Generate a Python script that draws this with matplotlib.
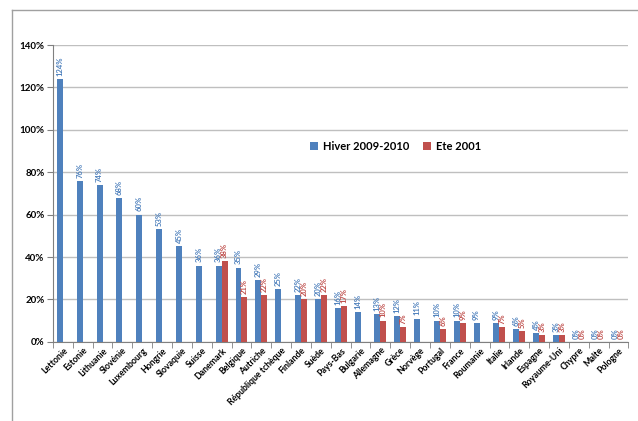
import numpy as np
import matplotlib
matplotlib.use("Agg")
from matplotlib import pyplot as plt
from matplotlib.lines import Line2D

countries = ["Lettonie", "Estonie", "Lithuanie", "Slovénie", "Luxembourg", "Hongrie",
             "Slovaquie", "Suisse", "Danemark", "Belgique", "Autriche", "République tchèque",
             "Finlande", "Suède", "Pays-Bas", "Bulgarie", "Allemagne", "Grèce", "Norvège",
             "Portugal", "France", "Roumanie", "Italie", "Irlande", "Espagne", "Royaume-Uni",
             "Chypre", "Malte", "Pologne"]
hiver = [124, 76, 74, 68, 60, 53, 45, 36, 36, 35, 29, 25, 22, 20, 16, 14, 13, 12, 11,
         10, 10, 9, 9, 6, 4, 3, 0, 0, 0]
ete = [np.nan, np.nan, np.nan, np.nan, np.nan, np.nan, np.nan, np.nan, 38, 21, 22, np.nan,
       20, 22, 17, np.nan, 10, 7, np.nan, 6, 9, np.nan, 7, 5, 3, 3, 0, 0, 0]

blue = "#4F81BD"
red = "#C0504D"
plt.rcParams['font.family'] = ['Lato', 'DejaVu Sans']

fig = plt.figure(figsize=(6.38, 4.21), dpi=100)
ax = fig.add_axes([0.083, 0.188, 0.902, 0.705])

x = np.arange(len(countries))
w = 0.3
ax.bar(x - w/2, hiver, w, color=blue, label="Hiver 2009-2010", zorder=3)
ax.bar(x + w/2, np.nan_to_num(ete), w, color=red, label="Ete 2001", zorder=3)

# data labels
for i in range(len(x)):
  ax.text(x[i] - w/2, hiver[i] + 1.5, "%d%%" % hiver[i], rotation=90, ha="center",
          va="bottom", fontsize=5.5, fontweight="bold", color=blue)
  if not np.isnan(ete[i]):
    ax.text(x[i] + w/2, ete[i] + 1.5, "%d%%" % ete[i], rotation=90, ha="center",
            va="bottom", fontsize=5.5, fontweight="bold", color=red)

ax.set_ylim(0, 140)
ax.set_xlim(-0.5, len(countries) - 0.5)
ax.set_yticks(np.arange(0, 141, 20))
ax.set_yticklabels(["%d%%" % v for v in range(0, 141, 20)], fontsize=7, fontweight="bold")
ax.yaxis.grid(True, color="#BFBFBF", linewidth=1, zorder=0)
ax.set_axisbelow(True)

ax.set_xticks(x)
ax.set_xticklabels(countries, rotation=45, ha="right", rotation_mode="anchor",
                   fontsize=6.3, fontweight="bold")
ax.tick_params(axis="x", length=0, pad=3)
ax.set_xticks(np.arange(-0.5, len(countries), 1), minor=True)
ax.tick_params(axis="x", which="minor", length=4, color="#808080", direction="out")
ax.tick_params(axis="y", length=4, color="#808080", direction="out", pad=2)

for s in ["top", "right"]:
  ax.spines[s].set_visible(False)
ax.spines["left"].set_color("#808080")
ax.spines["bottom"].set_color("#808080")

ax.legend(loc="upper left", bbox_to_anchor=(0.43, 0.71), ncol=2, frameon=False,
          prop={"size": 8, "weight": "bold"}, handlelength=0.7, handleheight=0.7,
          columnspacing=1.3, handletextpad=0.4)

# outer chart frame
fig.add_artist(Line2D([0.019, 1.0], [0.976, 0.976], transform=fig.transFigure,
                      color="#A0A0A0", linewidth=1))
fig.add_artist(Line2D([0.019, 0.019], [0.0, 0.976], transform=fig.transFigure,
                      color="#A0A0A0", linewidth=1))

fig.savefig("out.png", dpi=100)
